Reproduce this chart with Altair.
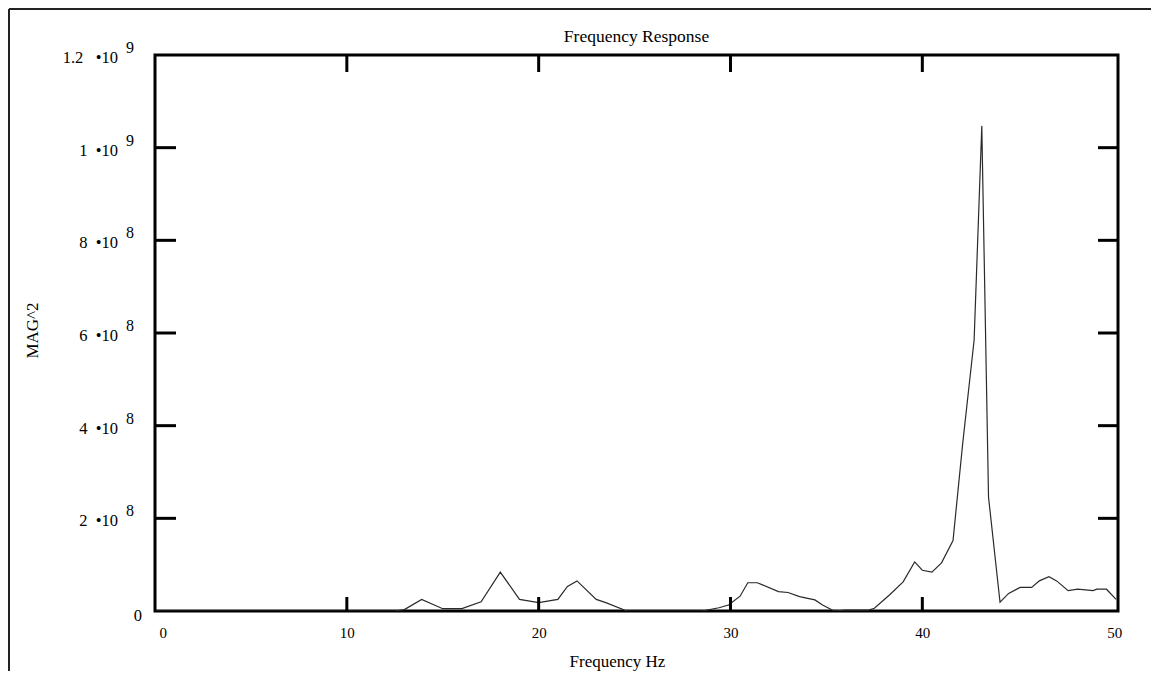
import altair as alt
import pandas as pd

# Frequency (Hz) and magnitude^2 (in units of 1e8)
freq = [0, 12.5, 13.0, 13.9, 15.0, 16.0, 17.0, 18.0, 19.0, 20.0, 21.0, 21.5, 22.0,
        23.0, 23.5, 24.6, 28.5, 29.4, 29.9, 30.5, 30.9, 31.4, 32.5, 33.0, 33.6,
        34.4, 34.8, 35.4, 36.0, 37.2, 37.5, 38.3, 39.0, 39.6, 40.0, 40.5, 41.0,
        41.6, 42.1, 42.7, 43.1, 43.45, 44.05, 44.5, 45.1, 45.7, 46.1, 46.6, 47.0,
        47.6, 48.1, 48.9, 49.1, 49.6, 50.1]
mag_e8 = [0, 0, 0.03, 0.25, 0.05, 0.05, 0.2, 0.84, 0.25, 0.18, 0.25, 0.53, 0.65,
          0.25, 0.18, 0, 0, 0.07, 0.13, 0.32, 0.61, 0.61, 0.42, 0.40, 0.31,
          0.24, 0.13, 0, 0.02, 0.02, 0.06, 0.35, 0.63, 1.06, 0.88, 0.84, 1.04,
          1.52, 3.6, 5.85, 10.47, 2.46, 0.19, 0.38, 0.51, 0.51, 0.65, 0.74, 0.65,
          0.44, 0.47, 0.44, 0.47, 0.47, 0.25]

title_text = ["Frequency Response"]
x_tick_vals = [0, 10, 20, 30, 40, 50]
x_inner_ticks = [10, 20, 30, 40]
y_tick_vals = [0, 2e8, 4e8, 6e8, 8e8, 1e9, 1.2e9]
NB = "\u00a0"
y_tick_mant = ["0", "2" + NB * 2 + "•10", "4" + NB * 2 + "•10", "6" + NB * 2 + "•10",
               "8" + NB * 2 + "•10", "1" + NB * 2 + "•10", "1.2" + NB * 3 + "•10"]
y_tick_exp = ["", "8", "8", "8", "8", "9", "9"]
y_inner_ticks = [2e8, 4e8, 6e8, 8e8, 1e9]

W, H = 963, 556
FONT = "Liberation Serif"

df = pd.DataFrame({"f": freq, "m": [v * 1e8 for v in mag_e8]})
ylab = pd.DataFrame({"v": y_tick_vals, "mant": y_tick_mant, "exp": y_tick_exp})
xt = pd.DataFrame({"f": x_inner_ticks})
yt = pd.DataFrame({"m": y_inner_ticks})
tdf = pd.DataFrame({"t": title_text})

xscale = alt.Scale(domain=[0, 50.2], nice=False, zero=False)
yscale = alt.Scale(domain=[0, 1.2e9], nice=False)

line = alt.Chart(df).mark_line(color="#2a2a2a", strokeWidth=1.2, clip=True).encode(
    x=alt.X("f:Q", scale=xscale,
            axis=alt.Axis(values=x_tick_vals, ticks=False, domain=False, grid=False,
                          labelFlush=True, labelFlushOffset=-4,
                          labelFont=FONT, labelFontSize=15, labelColor="black",
                          labelPadding=14,
                          title="Frequency Hz", titleFont=FONT, titleFontSize=17,
                          titleFontWeight="normal", titleColor="black",
                          titleX=462, titleY=50, titleAlign="center",
                          titleBaseline="middle")),
    y=alt.Y("m:Q", scale=yscale,
            axis=alt.Axis(labels=False, ticks=False, domain=False, grid=False,
                          title="MAG^2", titleFont=FONT, titleFontSize=17,
                          titleFontWeight="normal", titleColor="black",
                          titleX=-123, titleY=275, titleAngle=270,
                          titleAlign="center", titleBaseline="middle")),
)

# inward ticks on all four sides
bt = alt.Chart(xt).mark_rule(color="black", strokeWidth=3).encode(
    x=alt.X("f:Q", scale=xscale), y=alt.value(H), y2=alt.value(H - 14))
tt = alt.Chart(xt).mark_rule(color="black", strokeWidth=3).encode(
    x=alt.X("f:Q", scale=xscale), y=alt.value(0), y2=alt.value(17))
lt = alt.Chart(yt).mark_rule(color="black", strokeWidth=3).encode(
    y=alt.Y("m:Q", scale=yscale), x=alt.value(0), x2=alt.value(21))
rt = alt.Chart(yt).mark_rule(color="black", strokeWidth=3).encode(
    y=alt.Y("m:Q", scale=yscale), x=alt.value(W), x2=alt.value(W - 20))

# y tick labels: mantissa and superscript exponent
mant_nz = alt.Chart(ylab).transform_filter("datum.v > 0").mark_text(
    font=FONT, fontSize=16.5, align="right", baseline="middle", dy=3, color="black"
).encode(y=alt.Y("v:Q", scale=yscale), x=alt.value(-37), text="mant:N")
mant_z = alt.Chart(ylab).transform_filter("datum.v == 0").mark_text(
    font=FONT, fontSize=16.5, align="right", baseline="middle", dy=5, color="black"
).encode(y=alt.Y("v:Q", scale=yscale), x=alt.value(-13), text="mant:N")
exps = alt.Chart(ylab).transform_filter("datum.v > 0").mark_text(
    font=FONT, fontSize=16, align="left", baseline="middle", dy=-7, color="black"
).encode(y=alt.Y("v:Q", scale=yscale), x=alt.value(-29), text="exp:N")

# chart title as text
title = alt.Chart(tdf).mark_text(
    font=FONT, fontSize=17.5, align="center", baseline="middle", color="black"
).encode(x=alt.value(W / 2), y=alt.value(-18), text="t:N")

# outer page frame
frame_top = alt.Chart(xt).mark_rule(color="#222", strokeWidth=2).encode(
    x=alt.value(-146), x2=alt.value(W + 33), y=alt.value(-46))
frame_left = alt.Chart(xt).mark_rule(color="#222", strokeWidth=2).encode(
    x=alt.value(-146), y=alt.value(-46), y2=alt.value(H + 60))

chart = alt.layer(
    frame_top, frame_left, line, bt, tt, lt, rt, mant_nz, mant_z, exps, title
).properties(
    width=W, height=H,
    padding={"left": 147, "top": 47, "right": 33, "bottom": 60},
    autosize=alt.AutoSizeParams(type="none"),
).configure(
    background="white"
).configure_view(
    stroke="black", strokeWidth=3
)

chart.save("out.html", embed_options={"renderer": "svg", "actions": False})
